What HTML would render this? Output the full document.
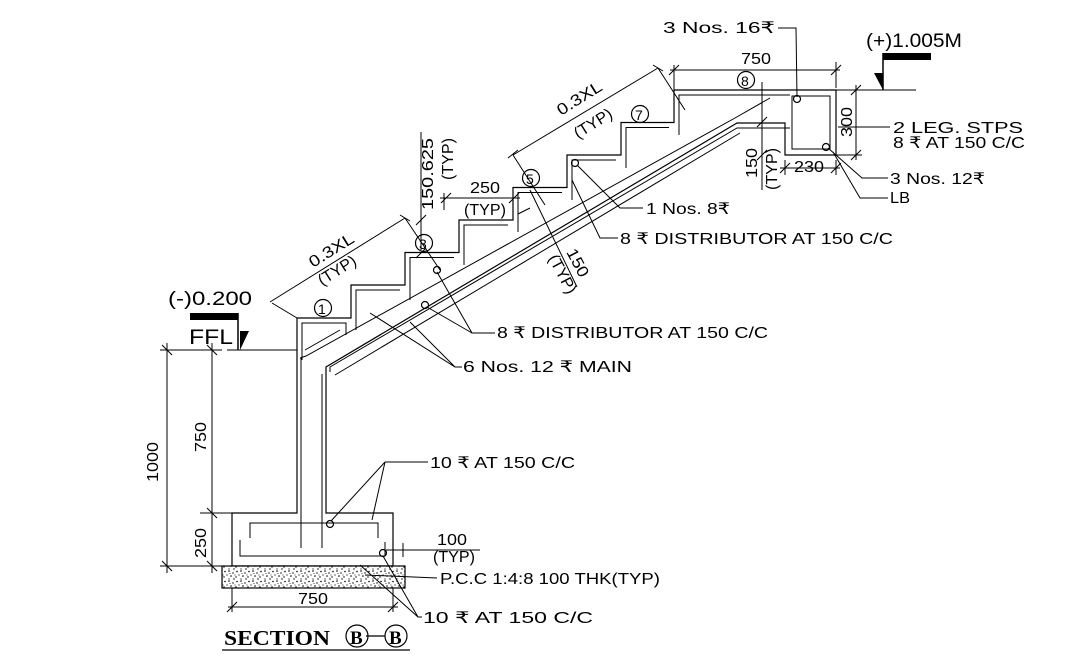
<!DOCTYPE html>
<html><head><meta charset="utf-8"><style>
html,body{margin:0;padding:0;background:#fff;}
svg{display:block;}
text{font-family:"Liberation Sans","DejaVu Sans",sans-serif;fill:#000;}
</style></head><body>
<svg width="1068" height="671" viewBox="0 0 1068 671" xmlns="http://www.w3.org/2000/svg">
<defs>
<pattern id="pcc" width="12" height="10" patternUnits="userSpaceOnUse">
<rect width="12" height="10" fill="#fff"/>
<circle cx="1" cy="1" r="0.8" fill="#000"/><circle cx="5" cy="3" r="0.7" fill="#000"/>
<circle cx="9" cy="1.5" r="0.8" fill="#000"/><circle cx="3" cy="6" r="0.8" fill="#000"/>
<circle cx="8" cy="7" r="0.7" fill="#000"/><circle cx="11" cy="5" r="0.6" fill="#000"/>
<circle cx="6" cy="9" r="0.7" fill="#000"/><circle cx="1" cy="9" r="0.6" fill="#000"/>
<circle cx="7" cy="5" r="0.5" fill="#000"/><circle cx="2" cy="3.5" r="0.5" fill="#000"/>
</pattern>
</defs>
<g stroke="#000" fill="none" stroke-width="1.2">
<path d="M297,513 L297,318 L351,318 L351,285 L405,285 L405,252.5 L459,252.5 L459,220 L513,220 L513,187.5 L567,187.5 L567,155 L621,155 L621,122.5 L674,122.5 L674,90 L836,90 L836,155 L785,155 L785,123 L737,123 L326,367 L326,513 L393,513 L393,566 L232,566 L232,513 Z"/>
<path stroke-width="1" d="M302,360 L302,323 L346,323 M356,330 L356,290 L400,290 M410,300 L410,257.5 L454,257.5 M464,265 L464,225 L508,225 M518,232 L518,192.5 L562,192.5 M572,200 L572,160 L616,160 M626,168 L626,127.5 L669,127.5 M679,135 L679,95 L790,95"/>
<path stroke-width="1" d="M302,323 L346,323 L346,335 M356,290 L356,300 M410,257.5 L410,268 M464,225 L464,236 M518,192.5 L518,204 M572,160 L572,170 M626,127.5 L626,138 M679,95 L679,105"/>
<path stroke-width="1" d="M300,358 L306,356 L735,118 L770,98"/>
<path stroke-width="1" d="M330,372 L330,367 L737,128 L790,128"/>
<path stroke-width="1" d="M335,375 L740,133"/>
<path stroke-width="1" d="M305,350 L340,330"/>
<path stroke-width="1" d="M301,358 L301,548 M322,374 L322,548"/>
<path stroke-width="1" d="M240,540 L240,556 L385,556 L385,542 M250,538 L250,523 L378,523 L378,538"/>
<rect x="792" y="96" width="38" height="53" stroke-width="1"/>
<circle cx="797" cy="99" r="3.5"/><circle cx="826" cy="147" r="3.5"/>
<circle cx="575" cy="163" r="3.5"/><circle cx="437" cy="270" r="3.5"/><circle cx="425" cy="305" r="3.5"/>
<circle cx="330" cy="524" r="3.5"/><circle cx="383" cy="553" r="3.5"/>
<rect x="222" y="566" width="183" height="22" fill="url(#pcc)"/>
<path stroke-width="1" d="M160,350 L222,350 M227,350 L297,350 M200,513 L232,513 M160,566 L222,566 M167,343 L167,573 M212,343 L212,573"/>
<path stroke-width="1" d="M162,345 L172,355 M162,561 L172,571 M207,345 L217,355 M207,508 L217,518 M207,561 L217,571"/>
<path stroke-width="1" d="M232,588 L232,612 M393,588 L393,612 M228,607 L398,607 M227,612 L237,602 M388,612 L398,602"/>
<path stroke-width="1" d="M386,550 L480,550 M393,543 L393,557 M403,543 L403,557"/>
<rect x="190" y="313" width="48" height="7" fill="#000" stroke="none"/>
<path d="M238,313 L238,350" stroke-width="1.5"/>
<polygon points="240,331 249,331 240,350" fill="#000" stroke="none"/>
<rect x="883" y="53" width="48" height="7" fill="#000" stroke="none"/>
<path d="M883,53 L883,90" stroke-width="1.5"/>
<polygon points="874,73 883,73 883,90" fill="#000" stroke="none"/>
<path stroke-width="1" d="M836,90 L916,90"/>
<path stroke-width="1" d="M674,65 L674,90 M836,62 L836,88 M670,70 L840,70 M669,75 L679,65 M831,75 L841,65"/>
<path stroke-width="1" d="M836,90 L862,90 M836,155 L862,155 M856,85 L856,160 M851,95 L861,85 M851,160 L861,150"/>
<path stroke-width="1" d="M785,160 L785,175 M836,160 L836,175 M780,168 L840,168 M780,173 L790,163 M831,173 L841,163"/>
<path stroke-width="1" d="M762,82 L762,190 M757,127 L767,117 M757,160 L767,150"/>
<path stroke-width="1" d="M421,132 L421,250 M416,225 L426,215 M416,258 L426,248"/>
<path stroke-width="1" d="M440,198 L520,198 M441,203 L451,193 M509,203 L519,193 M444,193 L444,210"/>
<path stroke-width="1" d="M270,302 L405,218 M400,215 L410,221 M405,218 L440,270 M297,318 L272,303"/>
<path stroke-width="1" d="M513,155 L658,68 M653,65 L663,71 M658,68 L685,110 M513,155 L545,205 M518,150 L508,158"/>
<path stroke-width="1" d="M530,190 L577,287 M518,214 L530,208"/>
<circle cx="323" cy="308" r="8.5"/><circle cx="424" cy="243" r="8.5"/>
<circle cx="531" cy="178" r="8.5"/><circle cx="640" cy="114" r="8.5"/><circle cx="746" cy="80" r="8.5"/>
<path stroke-width="1" d="M778,28 L796,28 L797,97 M838,127 L890,127 M828,148 L862,178 L888,178 M833,152 L860,198 L888,198 M577,165 L620,208 L643,208 M572,180 L600,238 L618,238 M437,272 L472,333 L495,333 M427,307 L472,333 M370,313 L455,367 L462,367 M410,322 L455,367 M385,462 L428,462 M385,462 L331,521 M385,462 L372,520 M365,575 L437,578 M383,556 L418,617 L422,617 M360,565 L418,617"/>
<path stroke-width="1.2" d="M222,650 L410,650 M366,636 L385,636"/>
<circle cx="357" cy="636" r="11"/><circle cx="396" cy="636" r="11"/>
</g>
<g font-size="16">
<text x="663" y="33" textLength="112" lengthAdjust="spacingAndGlyphs">3 Nos. 16₹</text>
<text x="866" y="47" font-size="19" textLength="96" lengthAdjust="spacingAndGlyphs">(+)1.005M</text>
<text x="741" y="64" textLength="30" lengthAdjust="spacingAndGlyphs">750</text>
<text x="893" y="133" textLength="130" lengthAdjust="spacingAndGlyphs">2 LEG. STPS</text>
<text x="893" y="148" textLength="132" lengthAdjust="spacingAndGlyphs">8 ₹ AT 150 C/C</text>
<text x="890" y="184" textLength="95" lengthAdjust="spacingAndGlyphs">3 Nos. 12₹</text>
<text x="890" y="203" textLength="20" lengthAdjust="spacingAndGlyphs">LB</text>
<text x="646" y="214" textLength="84" lengthAdjust="spacingAndGlyphs">1 Nos. 8₹</text>
<text x="620" y="244" textLength="273" lengthAdjust="spacingAndGlyphs">8 ₹ DISTRIBUTOR AT 150 C/C</text>
<text x="497" y="338" textLength="271" lengthAdjust="spacingAndGlyphs">8 ₹ DISTRIBUTOR AT 150 C/C</text>
<text x="463" y="372" textLength="169" lengthAdjust="spacingAndGlyphs">6 Nos. 12 ₹ MAIN</text>
<text x="430" y="468" textLength="145" lengthAdjust="spacingAndGlyphs">10 ₹ AT 150 C/C</text>
<text x="440" y="584" textLength="220" lengthAdjust="spacingAndGlyphs">P.C.C 1:4:8 100 THK(TYP)</text>
<text x="423" y="623" textLength="170" lengthAdjust="spacingAndGlyphs">10 ₹ AT 150 C/C</text>
<text x="437" y="545" textLength="30" lengthAdjust="spacingAndGlyphs">100</text>
<text x="433" y="562" textLength="42" lengthAdjust="spacingAndGlyphs">(TYP)</text>
<text x="298" y="604" textLength="30" lengthAdjust="spacingAndGlyphs">750</text>
<text x="794" y="172" textLength="30" lengthAdjust="spacingAndGlyphs">230</text>
<text x="470" y="193" textLength="30" lengthAdjust="spacingAndGlyphs">250</text>
<text x="464" y="215" textLength="42" lengthAdjust="spacingAndGlyphs">(TYP)</text>
<text x="168" y="305" font-size="19" textLength="84" lengthAdjust="spacingAndGlyphs">(-)0.200</text>
<text x="189" y="344" font-size="21" textLength="44" lengthAdjust="spacingAndGlyphs">FFL</text>
<text transform="translate(158,482) rotate(-90)" textLength="40" lengthAdjust="spacingAndGlyphs">1000</text>
<text transform="translate(206,452) rotate(-90)" textLength="30" lengthAdjust="spacingAndGlyphs">750</text>
<text transform="translate(206,558) rotate(-90)" textLength="30" lengthAdjust="spacingAndGlyphs">250</text>
<text transform="translate(852,137) rotate(-90)" textLength="30" lengthAdjust="spacingAndGlyphs">300</text>
<text transform="translate(757,178) rotate(-90)" textLength="30" lengthAdjust="spacingAndGlyphs">150</text>
<text transform="translate(777,190) rotate(-90)" textLength="42" lengthAdjust="spacingAndGlyphs">(TYP)</text>
<text transform="translate(433,210) rotate(-90)" textLength="72" lengthAdjust="spacingAndGlyphs">150.625</text>
<text transform="translate(453,180) rotate(-90)" textLength="42" lengthAdjust="spacingAndGlyphs">(TYP)</text>
<text transform="translate(313,268) rotate(-32)" textLength="50" lengthAdjust="spacingAndGlyphs">0.3XL</text>
<text transform="translate(322,286) rotate(-32)" textLength="42" lengthAdjust="spacingAndGlyphs">(TYP)</text>
<text transform="translate(561,116) rotate(-32)" textLength="50" lengthAdjust="spacingAndGlyphs">0.3XL</text>
<text transform="translate(578,139) rotate(-32)" textLength="42" lengthAdjust="spacingAndGlyphs">(TYP)</text>
<text transform="translate(566,252) rotate(62)" textLength="30" lengthAdjust="spacingAndGlyphs">150</text>
<text transform="translate(548,258) rotate(62)" textLength="42" lengthAdjust="spacingAndGlyphs">(TYP)</text>
<text x="318" y="314" font-size="14">1</text>
<text x="419" y="249" font-size="14">3</text>
<text x="526" y="184" font-size="14">5</text>
<text x="635" y="120" font-size="14">7</text>
<text x="741" y="86" font-size="14">8</text>
<text x="224" y="645" font-size="21" font-weight="bold" style="font-family:'Liberation Serif',serif" textLength="106" lengthAdjust="spacingAndGlyphs">SECTION</text>
<text x="350" y="644" font-size="19" font-weight="bold" style="font-family:'Liberation Serif',serif">B</text>
<text x="389" y="644" font-size="19" font-weight="bold" style="font-family:'Liberation Serif',serif">B</text>
</g>
</svg>
</body></html>
